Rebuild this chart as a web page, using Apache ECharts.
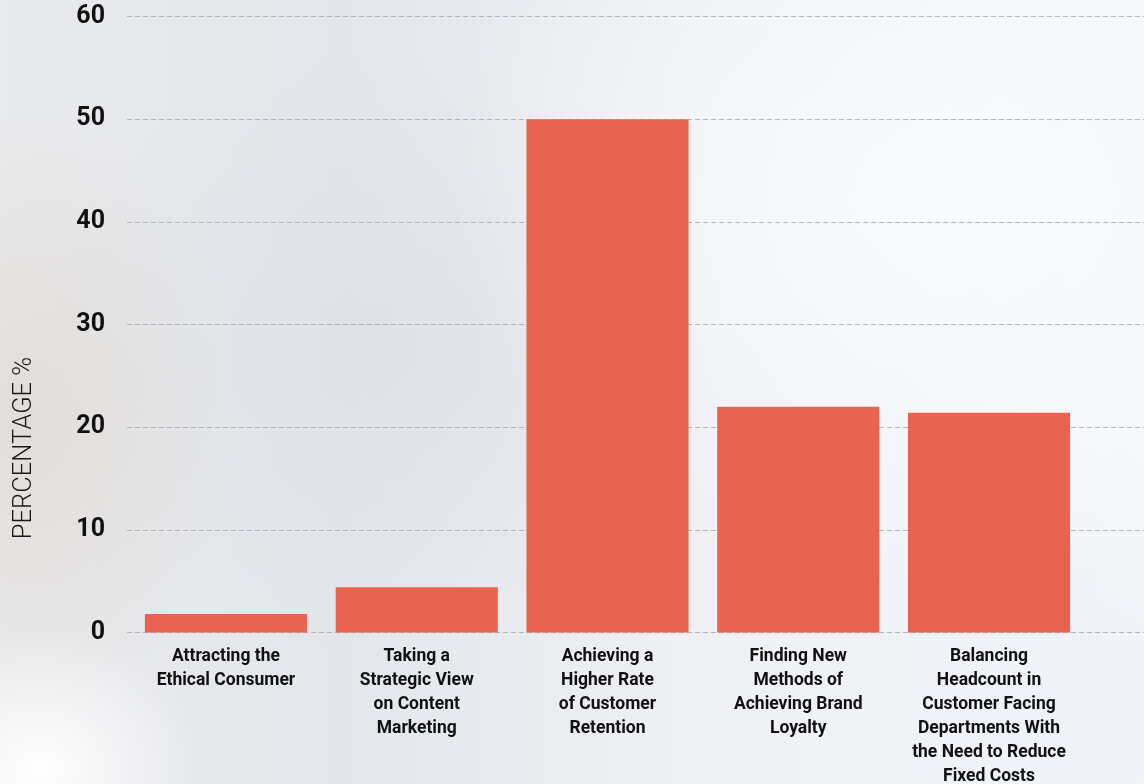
<!DOCTYPE html>
<html>
<head>
<meta charset="utf-8">
<script src="https://cdn.jsdelivr.net/npm/echarts@6/dist/echarts.min.js"></script>
<style>
html,body{margin:0;padding:0;width:1144px;height:784px;overflow:hidden;}
body{
  background:
    radial-gradient(ellipse 160px 140px at 40px 770px, rgba(255,255,255,0.95), rgba(255,255,255,0) 100%),
    radial-gradient(ellipse 200px 300px at 30px 420px, rgba(225,218,212,0.8), rgba(225,218,212,0) 100%),
    radial-gradient(ellipse 500px 400px at 950px 200px, rgba(250,251,253,0.95), rgba(250,251,253,0) 100%),
    radial-gradient(ellipse 300px 250px at 1050px 700px, rgba(238,241,247,0.9), rgba(238,241,247,0) 100%),
    radial-gradient(ellipse 350px 300px at 380px 350px, rgba(222,226,232,0.9), rgba(222,226,232,0) 100%),
    linear-gradient(90deg, #e9eaec 0%, #e3e6eb 30%, #eef0f4 60%, #f4f6f9 100%);
}
#chart{width:1144px;height:784px;}
</style>
</head>
<body>
<div id="chart"></div>
<script>
var categories = [
  "Attracting the\nEthical Consumer",
  "Taking a\nStrategic View\non Content\nMarketing",
  "Achieving a\nHigher Rate\nof Customer\nRetention",
  "Finding New\nMethods of\nAchieving Brand\nLoyalty",
  "Balancing\nHeadcount in\nCustomer Facing\nDepartments With\nthe Need to Reduce\nFixed Costs"
];
var values = [1.8, 4.4, 50, 22, 21.4];
var yMin = 0, yMax = 60, yInterval = 10;
var yAxisName = "PERCENTAGE %";

var chart = echarts.init(document.getElementById('chart'), null, {renderer: 'canvas'});
chart.setOption({
  backgroundColor: 'transparent',
  animation: false,
  grid: [
    {left: 127, right: 0, top: 16.5, bottom: 151.5, outerBoundsMode: 'none', containLabel: false},
    {left: 130.6, right: 59.6, top: 16.5, bottom: 151.5, outerBoundsMode: 'none', containLabel: false}
  ],
  graphic: [{
    type: 'text', x: 12, y: 448, rotation: Math.PI / 2,
    style: {
      text: yAxisName, fill: '#1a1a1a', font: '300 25.5px Roboto',
      align: 'center', verticalAlign: 'top'
    }
  }],
  xAxis: [
    {gridIndex: 0, type: 'value', min: 0, max: 1, show: false},
    {
      gridIndex: 1, type: 'category', data: categories,
      axisLine: {show: false}, axisTick: {show: false},
      axisLabel: {
        interval: 0, margin: 12, color: '#111', fontFamily: 'Roboto',
        fontWeight: 'bold', fontSize: 17.5, lineHeight: 24, align: 'center'
      }
    }
  ],
  yAxis: [
    {
      gridIndex: 0, type: 'value', min: yMin, max: yMax, interval: yInterval,
      axisLine: {show: false}, axisTick: {show: false},
      axisLabel: {margin: 22, color: '#111', fontFamily: 'Roboto', fontWeight: 'bold', fontSize: 25},
      splitLine: {show: true, lineStyle: {color: '#b3b5bb', width: 1, type: [5, 3]}}
    },
    {
      gridIndex: 1, type: 'value', min: yMin, max: yMax, interval: yInterval,
      show: false, splitLine: {show: false}
    }
  ],
  series: [{
    type: 'bar', xAxisIndex: 1, yAxisIndex: 1, data: values,
    barCategoryGap: '15%',
    itemStyle: {color: '#E96352'}
  }]
});
</script>
</body>
</html>
